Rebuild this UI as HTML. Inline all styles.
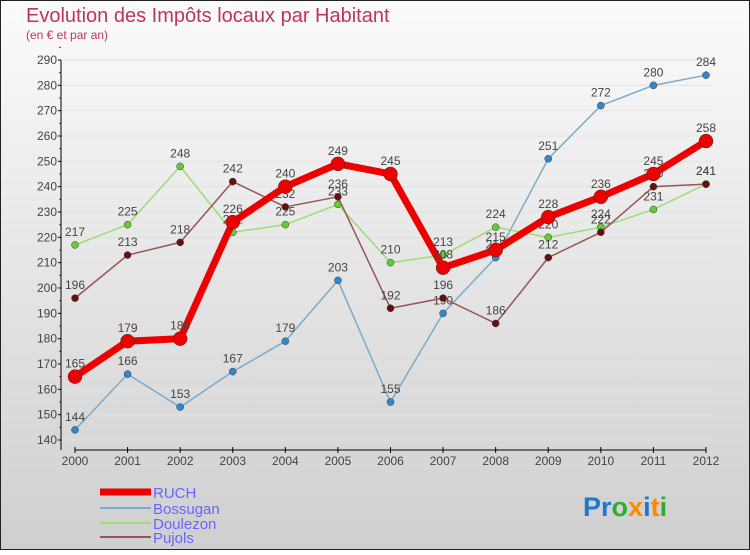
<!DOCTYPE html>
<html><head><meta charset="utf-8"><style>
body{margin:0;width:750px;height:550px;overflow:hidden;font-family:"Liberation Sans",sans-serif}
</style></head><body>
<svg width="750" height="550" xmlns="http://www.w3.org/2000/svg">
<defs><linearGradient id="bg" x1="0" y1="0" x2="0" y2="1"><stop offset="0" stop-color="#fbfbfb"/><stop offset="1" stop-color="#cfcfcf"/></linearGradient></defs>
<rect x="0.5" y="0.5" width="749" height="549" fill="url(#bg)" stroke="#222"/>
<text x="26" y="22" font-size="20" fill="#c0335e">Evolution des Impôts locaux par Habitant</text>
<text x="26" y="39" font-size="12" fill="#c0335e">(en € et par an)</text>
<g id="grid"></g><g id="axes"></g><g id="series"></g>
<g>
<line x1="100" y1="492" x2="151" y2="492" stroke="#e00" stroke-width="7"/><text x="153" y="498" font-size="15" fill="#66f">RUCH</text>
<line x1="100" y1="508" x2="151" y2="508" stroke="#7aaacc" stroke-width="2"/><text x="153" y="514" font-size="15" fill="#66f">Bossugan</text>
<line x1="100" y1="523" x2="151" y2="523" stroke="#99dd77" stroke-width="2"/><text x="153" y="529" font-size="15" fill="#66f">Doulezon</text>
<line x1="100" y1="537" x2="151" y2="537" stroke="#995555" stroke-width="2"/><text x="153" y="543" font-size="15" fill="#66f">Pujols</text>
</g>
<text x="583" y="516" font-size="27" font-weight="bold"><tspan fill="#2277cc">Pr</tspan><tspan fill="#33aa33">o</tspan><tspan fill="#ff8800">x</tspan><tspan fill="#2277cc">i</tspan><tspan fill="#ff8800">t</tspan><tspan fill="#33aa33">i</tspan></text>
</svg>
<script>
const years=[2000,2001,2002,2003,2004,2005,2006,2007,2008,2009,2010,2011,2012];
const ruch=[165,179,180,226,240,249,245,208,215,228,236,245,258];
const bossugan=[144,166,153,167,179,203,155,190,212,251,272,280,284];
const doulezon=[217,225,248,222,225,233,210,213,224,220,224,231,241];
const pujols=[196,213,218,242,232,236,192,196,186,212,222,240,241];
const yTicks=[140,150,160,170,180,190,200,210,220,230,240,250,260,270,280,290];
const NS="http://www.w3.org/2000/svg";
const X=i=>75+i*(706-75)/(years.length-1);
const Y=v=>440-(v-140)*(380/150);
function mk(t,a,p){const e=document.createElementNS(NS,t);for(const k in a)e.setAttribute(k,a[k]);p.appendChild(e);return e;}
const grid=document.getElementById('grid'),axes=document.getElementById('axes'),ser=document.getElementById('series');
yTicks.forEach(v=>{
 const l=mk('line',{x1:61,x2:712,y1:Y(v),y2:Y(v),stroke:'#e2e2e2'},grid);
 
 
 const t=mk('text',{x:57,y:Y(v)+4,'font-size':12,fill:'#444','text-anchor':'end'},axes);t.textContent=v;
 
 
 mk('line',{x1:58,x2:61,y1:Y(v),y2:Y(v),stroke:'#000'},axes);
 mk('line',{x1:59,x2:61,y1:Y(v+5),y2:Y(v+5),stroke:'#e00'},axes);
});
mk('line',{x1:61,x2:61,y1:Y(290),y2:450,stroke:'#000'},axes);
mk('line',{x1:75,x2:706,y1:450,y2:450,stroke:'#000'},axes);
years.forEach((y,i)=>{
 mk('line',{x1:X(i),x2:X(i),y1:447,y2:453,stroke:'#000'},axes);
 const t=mk('text',{x:X(i),y:465,'font-size':12,fill:'#444','text-anchor':'middle'},axes);t.textContent=y;
 
 
});
function draw(d,name,color,w,r,dot){
 const g=mk('g',{},ser);
 
 
 mk('polyline',{points:d.map((v,i)=>X(i)+','+Y(v)).join(' '),fill:'none',stroke:color,'stroke-width':w,'stroke-linejoin':'round'},g);
 d.forEach((v,i)=>{
  const c=mk('circle',{cx:X(i),cy:Y(v),r:r,fill:dot,stroke:'#333','stroke-width':0.5},g);
  
  
  const t=mk('text',{x:X(i),y:Y(v)-9,'font-size':12,fill:'#444','text-anchor':'middle'},g);t.textContent=v;
 });
}
draw(bossugan,'bossugan','#7aaacc',1.5,3.5,'#3388cc');
draw(doulezon,'doulezon','#99dd77',1.5,3.5,'#66cc33');
draw(pujols,'pujols','#995555',1.5,3.5,'#661111');
draw(ruch,'ruch','#ee0000',7,7,'#ee0000');
</script>
</body></html>
